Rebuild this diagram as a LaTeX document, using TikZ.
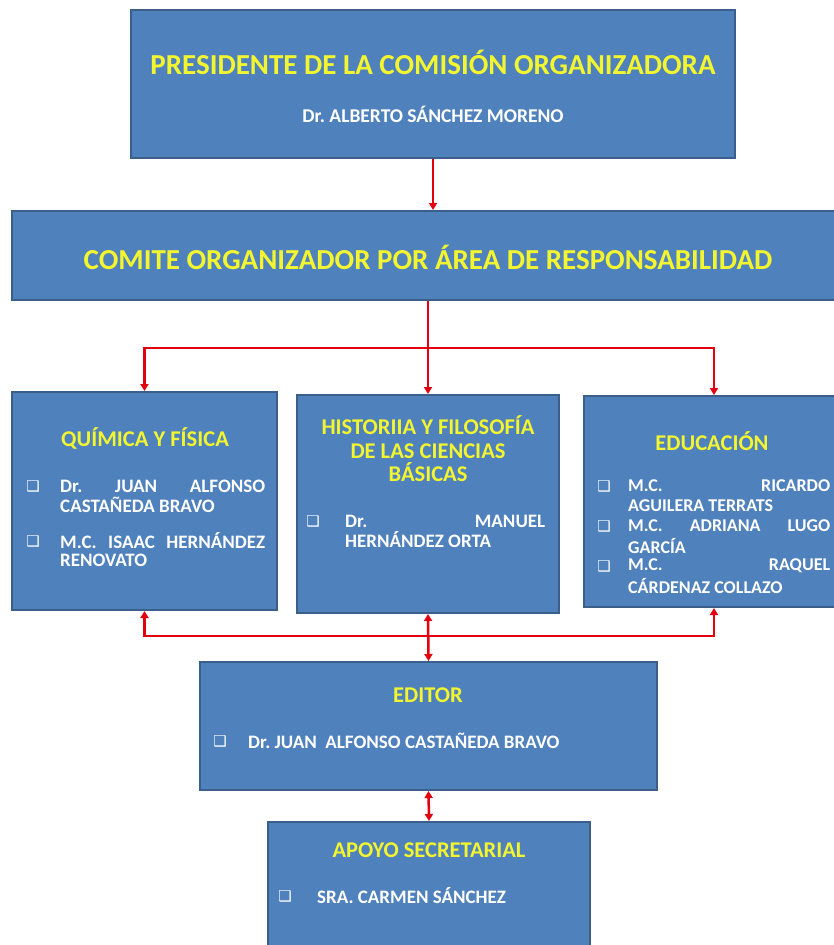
\documentclass[tikz,border=0pt]{standalone}
\usepackage{fontspec}
\setmainfont{Carlito}
\newfontfamily\dejavu{DejaVu Sans}
\usetikzlibrary{arrows.meta}
\definecolor{boxfill}{HTML}{4F81BD}
\definecolor{boxedge}{HTML}{3A5F8B}
\definecolor{ttlcol}{HTML}{F2F530}
\definecolor{arrcol}{HTML}{E3000F}
\begin{document}
\frenchspacing
\begin{tikzpicture}[x=1pt,y=-1pt,
  box/.style={draw=boxedge,line width=2pt,fill=boxfill,inner sep=0pt},
  bigttl/.style={text=ttlcol,font=\bfseries\fontsize{29}{33}\selectfont,inner sep=0pt,align=center},
  ttl/.style={text=ttlcol,font=\bfseries\fontsize{22.5}{23.5}\selectfont,inner sep=0pt,align=center},
  body/.style={text=white,font=\bfseries\fontsize{19}{19}\selectfont,inner sep=0pt,anchor=west},
  ebody/.style={text=white,font=\bfseries\fontsize{18}{18}\selectfont,inner sep=0pt,anchor=west},
  bul/.style={text=white,font=\dejavu\fontsize{15}{15}\selectfont,inner sep=0pt},
  link/.style={draw=arrcol,line width=2.5pt},
  tip/.style={-{Triangle[width=8pt,length=7pt]}},
  tips/.style={{Triangle[width=8pt,length=7pt]}-{Triangle[width=8pt,length=7pt]}}]
\useasboundingbox (0,0) rectangle (833,945);
\fill[white] (0,0) rectangle (833,945);

% boxes
\node[box,minimum width=604pt,minimum height=148pt] (pres) at (433,84) {};
\node[box,minimum width=832pt,minimum height=89pt] (comite) at (428,255.5) {};
\node[box,minimum width=265pt,minimum height=218pt] (quim) at (144.5,501) {};
\node[box,minimum width=262pt,minimum height=218pt] (hist) at (428,504) {};
\node[box,minimum width=260pt,minimum height=211pt] (edu) at (714,501.5) {};
\node[box,minimum width=457pt,minimum height=128pt] (editor) at (428.5,726) {};
\node[box,minimum width=322pt,minimum height=143pt] (apoyo) at (429,893.5) {};

% top texts
\node[bigttl] (t1) at (433,62) {PRESIDENTE DE LA COMISIÓN ORGANIZADORA};
\node[text=white,font=\bfseries\fontsize{19.5}{21}\selectfont,inner sep=0pt] (t2) at (433,114) {Dr. ALBERTO SÁNCHEZ MORENO};
\node[bigttl] (t3) at (428,257) {COMITE ORGANIZADOR POR ÁREA DE RESPONSABILIDAD};

% quimica
\node[ttl] (qt) at (145,438) {QUÍMICA Y FÍSICA};
\node[bul] (qb1) at (33,486) {❑};
\node[bul] (qb2) at (33,541) {❑};
\node[body] (q1) at (60,486) {\makebox[205pt][s]{Dr. JUAN ALFONSO}};
\node[body] (q2) at (60,505) {CASTAÑEDA BRAVO};
\node[body] (q3) at (60,541) {\makebox[205pt][s]{M.C. ISAAC HERNÁNDEZ}};
\node[body] (q4) at (60,560) {RENOVATO};

% historia
\node[ttl] (ht) at (428,449) {HISTORIIA Y FILOSOFÍA\\DE LAS CIENCIAS\\BÁSICAS};
\node[bul] (hb1) at (313,521) {❑};
\node[body] (h1) at (345,521) {\makebox[200pt][s]{Dr. MANUEL}};
\node[body] (h2) at (345,540) {HERNÁNDEZ ORTA};

% educacion
\node[ttl] (et) at (712,441) {EDUCACIÓN};
\node[bul] (eb1) at (604,486) {❑};
\node[bul] (eb2) at (604,526) {❑};
\node[bul] (eb3) at (604,566) {❑};
\node[ebody] (e1) at (628,486) {\makebox[202pt][s]{M.C. RICARDO}};
\node[ebody] (e2) at (628,506) {AGUILERA TERRATS};
\node[ebody] (e3) at (628,526) {\makebox[202pt][s]{M.C. ADRIANA LUGO}};
\node[ebody] (e4) at (628,546) {GARCÍA};
\node[ebody] (e5) at (628,566) {\makebox[202pt][s]{M.C. RAQUEL}};
\node[ebody] (e6) at (628,586) {CÁRDENAZ COLLAZO};

% editor
\node[ttl] (edt) at (428,695) {EDITOR};
\node[bul] (edb) at (220,741) {❑};
\node[body] (ed1) at (248,741) {Dr. JUAN~ ALFONSO CASTAÑEDA BRAVO};

% apoyo
\node[ttl] (at) at (429,850) {APOYO SECRETARIAL};
\node[bul] (ab) at (285,896) {❑};
\node[body] (a1) at (317,896) {SRA. CARMEN SÁNCHEZ};

% connectors
\coordinate (j1) at (428,348);
\coordinate (j2) at (428,636);
\draw[link,tip] (pres.south) -- (pres.south |- comite.north);
\draw[link] (comite.south) -- (j1);
\draw[link,tip] (j1) -| (quim.north);
\draw[link,tip] (j1) -| (edu.north);
\draw[link,tip] (j1) -- (hist.north);
\draw[link,tip] (j2) -| (quim.south);
\draw[link,tip] (j2) -| (edu.south);
\draw[link,tips] (hist.south) -- (editor.north);
\draw[link,tips] (editor.south) -- (apoyo.north);
\end{tikzpicture}
\end{document}
